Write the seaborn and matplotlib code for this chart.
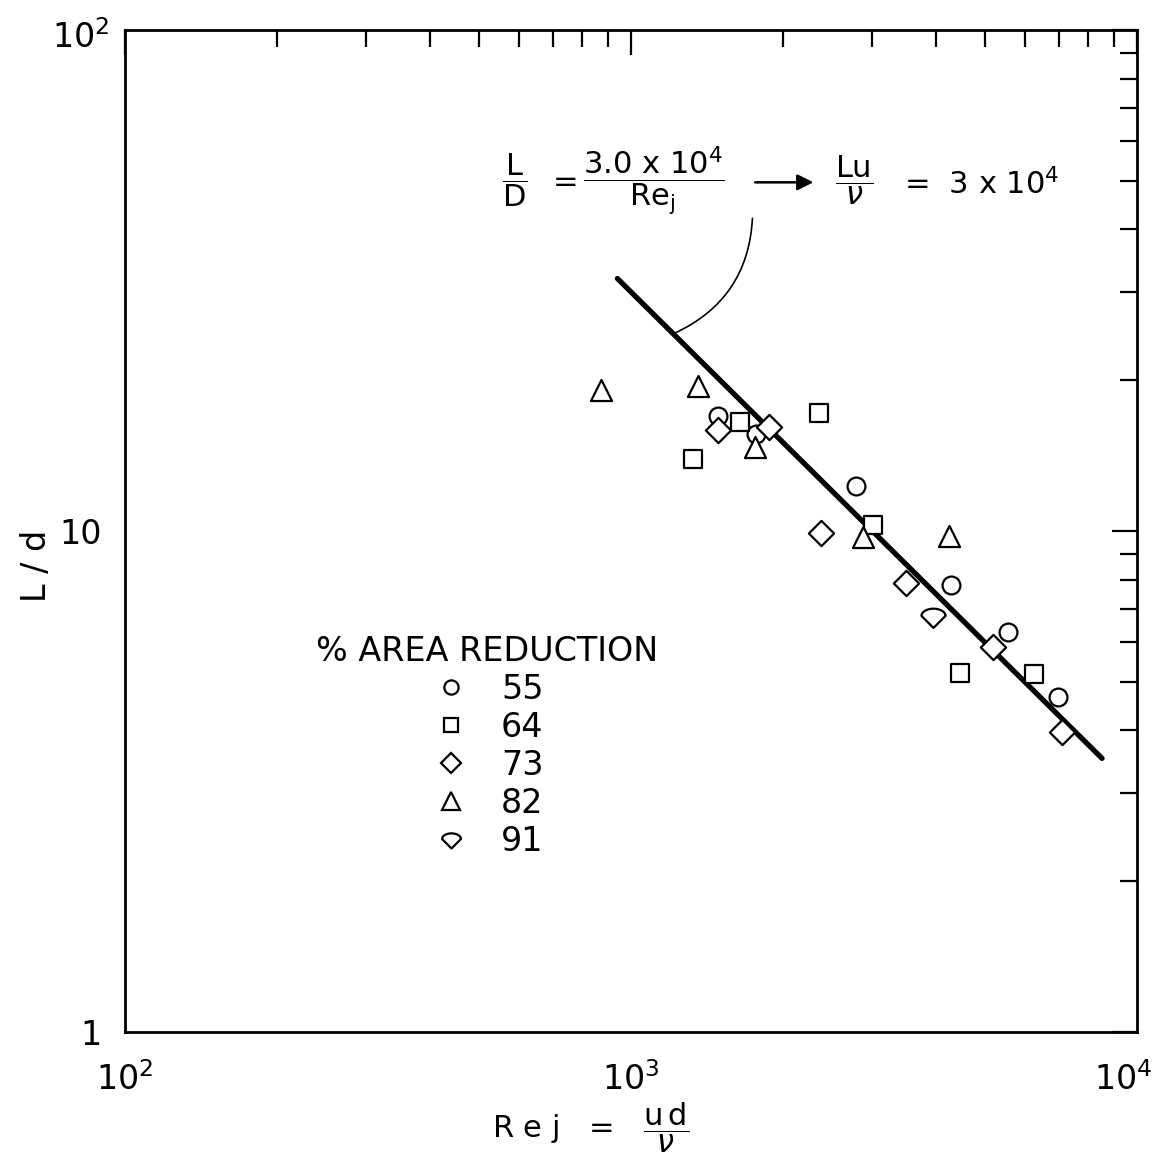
import numpy as np
import pandas as pd
import seaborn as sns
import matplotlib.pyplot as plt
import matplotlib.transforms as mtransforms
from matplotlib.path import Path
from matplotlib.lines import Line2D
from matplotlib.ticker import LogLocator, NullFormatter, FixedLocator

# Jet Reynolds number Re_j and penetration length L/d, grouped by % area reduction
re_55 = [1486, 1766, 2784, 4290, 5561, 6982]
ld_55 = [17.0, 15.6, 12.3, 7.79, 6.28, 4.66]

re_64 = [1326, 1642, 2352, 3008, 4469, 6256]
ld_64 = [13.95, 16.5, 17.2, 10.3, 5.20, 5.18]

re_73 = [1486, 1874, 2374, 3496, 5194, 7110]
ld_73 = [15.9, 16.1, 9.93, 7.89, 5.86, 3.97]

re_82 = [872, 1357, 1759, 2874, 4252]
ld_82 = [19.15, 19.5, 14.7, 9.75, 9.79]

re_91 = [3953]
ld_91 = [6.78]

groups = ["55", "64", "73", "82", "91"]

# Correlation line  L/D = 3.0e4 / Re_j
fit_const = 3.0e4
re_fit = np.array([940.0, 8530.0])
ld_fit = fit_const / re_fit

x_tick_vals = [1e2, 1e3, 1e4]
x_tick_labels = [r"$10^2$", r"$10^3$", r"$10^4$"]
y_tick_vals = [1, 10, 100]
y_tick_labels = ["1", "10", r"$10^2$"]

frames = []
for g, xs, ys in zip(groups, [re_55, re_64, re_73, re_82, re_91],
                     [ld_55, ld_64, ld_73, ld_82, ld_91]):
    frames.append(pd.DataFrame({"Re": xs, "Ld": ys, "reduction": g}))
df = pd.concat(frames, ignore_index=True)

# shield-shaped marker: rounded top, pointed bottom
theta = np.linspace(0, np.pi, 25)
verts = [(np.cos(t), 0.05 + 0.6 * np.sin(t)) for t in theta] + [(0.0, -0.95), (1.0, 0.05)]
codes = [Path.MOVETO] + [Path.LINETO] * (len(verts) - 2) + [Path.CLOSEPOLY]
shield = Path(verts, codes)

marker_map = {"55": "o", "64": "s", "73": "D", "82": "^", "91": shield}
marker_area = {"55": 165, "64": 160, "73": 165, "82": 230, "91": 300}
legend_ms = {"55": 12.8, "64": 12.6, "73": 12.8, "82": 15.5, "91": 17.0}

sns.set_theme(style="white")
plt.rcParams["font.family"] = ["DejaVu Sans"]
plt.rcParams["mathtext.fontset"] = "dejavusans"
plt.rcParams["text.color"] = "black"
plt.rcParams["axes.labelcolor"] = "black"

fig = plt.figure(figsize=(11.59, 11.55), dpi=100)
ax = fig.add_axes([0.1079, 0.1065, 0.8731, 0.8675])

sns.lineplot(x=re_fit, y=ld_fit, ax=ax, color="black", lw=3.8, zorder=2)
for g in groups:
    sns.scatterplot(data=df[df["reduction"] == g], x="Re", y="Ld",
                    marker=marker_map[g], s=marker_area[g], color="white",
                    edgecolor="black", linewidth=1.6, legend=False, ax=ax, zorder=3)

ax.set_xscale("log")
ax.set_yscale("log")
ax.set_xlim(1e2, 1e4)
ax.set_ylim(1, 1e2)

for side in ax.spines.values():
    side.set_color("black")
    side.set_linewidth(2.0)

ax.xaxis.set_major_locator(FixedLocator(x_tick_vals))
ax.set_xticklabels(x_tick_labels)
ax.yaxis.set_major_locator(FixedLocator(y_tick_vals))
ax.set_yticklabels(y_tick_labels)
ax.xaxis.set_minor_locator(LogLocator(base=10, subs=np.arange(2, 10)))
ax.yaxis.set_minor_locator(LogLocator(base=10, subs=np.arange(2, 10)))
ax.xaxis.set_minor_formatter(NullFormatter())
ax.yaxis.set_minor_formatter(NullFormatter())
ax.tick_params(which="both", direction="in", top=True, right=True,
               colors="black", labelsize=24, width=1.6)
ax.tick_params(which="major", length=18)
ax.tick_params(which="minor", length=12)
ax.tick_params(axis="x", which="major", pad=22)
ax.tick_params(axis="y", which="major", pad=17)
ax.grid(False)
ax.set_xlabel("")
ax.set_ylabel("")

# nudge the outer tick labels inward so they sit like the hand lettering
fig.canvas.draw()
xlabels = ax.get_xticklabels()
xlabels[-1].set_transform(xlabels[-1].get_transform() +
                          mtransforms.ScaledTranslation(-14 / 100, 0, fig.dpi_scale_trans))
ylabels = ax.get_yticklabels()
ylabels[-1].set_transform(ylabels[-1].get_transform() +
                          mtransforms.ScaledTranslation(8 / 100, -4 / 100, fig.dpi_scale_trans))

# axis titles
ax.text(-0.088, 0.465, "L / d", transform=ax.transAxes, rotation=90,
        ha="center", va="center", fontsize=24)
ax.text(0.46, -0.096, r"R e j   =   $\dfrac{\mathrm{u\,d}}{\nu}$",
        transform=ax.transAxes, ha="center", va="center", fontsize=22)

# correlation annotation
fs = 22
ax.text(0.385, 0.850, r"$\dfrac{\mathrm{L}}{\mathrm{D}}$", transform=ax.transAxes,
        ha="center", va="center", fontsize=fs)
ax.text(0.435, 0.848, "=", transform=ax.transAxes, ha="center", va="center", fontsize=fs)
ax.text(0.523, 0.850, r"$\dfrac{\mathrm{3.0\ x\ 10^4}}{\mathrm{Re_j}}$",
        transform=ax.transAxes, ha="center", va="center", fontsize=fs)
ax.annotate("", xy=(0.683, 0.848), xytext=(0.620, 0.848), xycoords="axes fraction",
            arrowprops=dict(arrowstyle="-|>", color="black", lw=1.8, mutation_scale=24))
ax.text(0.721, 0.850, r"$\dfrac{\mathrm{Lu}}{\nu}$", transform=ax.transAxes,
        ha="center", va="center", fontsize=fs)
ax.text(0.770, 0.846, r"=  3 x 10$^4$", transform=ax.transAxes,
        ha="left", va="center", fontsize=fs)
ax.annotate("", xy=(0.5435, 0.6976), xytext=(0.620, 0.812), xycoords="axes fraction",
            arrowprops=dict(arrowstyle="-", color="black", lw=1.2,
                            connectionstyle="arc3,rad=-0.3", shrinkA=0, shrinkB=0))

# legend
handles = [Line2D([], [], ls="none", marker=marker_map[g], markersize=legend_ms[g],
                  markerfacecolor="white", markeredgecolor="black", markeredgewidth=1.6)
           for g in groups]
leg = ax.legend(handles, groups, title="% AREA REDUCTION", loc="center",
                bbox_to_anchor=(0.358, 0.285), frameon=False, fontsize=24,
                title_fontsize=24, markerscale=0.8, labelspacing=0.15,
                handletextpad=0.9, handlelength=1.2)

fig.savefig("out.png", dpi=100, facecolor="white")
